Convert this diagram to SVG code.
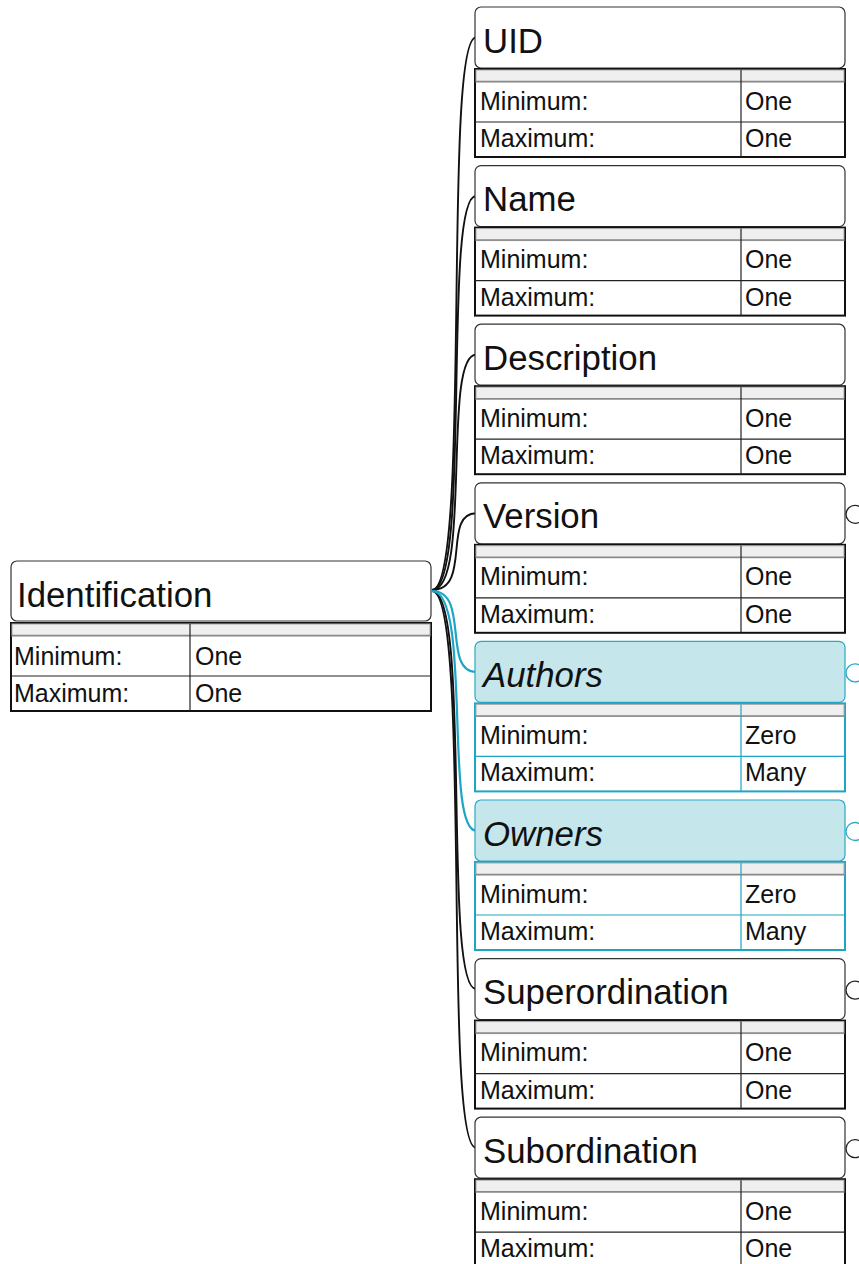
<svg xmlns="http://www.w3.org/2000/svg" width="859" height="1264" viewBox="0 0 859 1264">
  <style>
    .hdr { fill: #ffffff; stroke: #333333; stroke-width: 1.2; }
    .hdr-t { fill: #c5e6eb; stroke: #2aa9c7; stroke-width: 1.2; }
    .title { font-family: "Liberation Sans", Arial, sans-serif; font-size: 34.8px; fill: #111111; }
    .title-i { font-style: italic; }
    .tbl { fill: #ffffff; stroke: #111111; stroke-width: 2; }
    .tbl-t { fill: #ffffff; stroke: #1ea5c6; stroke-width: 2; }
    .strip { fill: #efefef; stroke: #aaaaaa; stroke-width: 1; }
    .strip-edge { stroke: #888888; stroke-width: 1.5; }
    .grid { stroke: #222222; stroke-width: 1.2; }
    .grid-t { stroke: #1ea5c6; stroke-width: 1.2; }
    .cell { font-family: "Liberation Sans", Arial, sans-serif; font-size: 25px; fill: #111111; }
    .port { fill: #ffffff; stroke: #222222; stroke-width: 1.3; }
    .port-t { fill: #ffffff; stroke: #2aa9c7; stroke-width: 1.3; }
    .link { fill: none; stroke: #111111; stroke-width: 1.9; }
    .link-t { fill: none; stroke: #1ea5c6; stroke-width: 2.2; }
  </style>

  <!-- connectors from the Identification node to each child -->
  <g id="connectors">
    <path class="link" d="M432 590 C472 590 442 37.5 476 37.5"/>
    <path class="link" d="M432 590 C472 590 442 196 476 196"/>
    <path class="link" d="M432 590 C472 590 442 354.7 476 354.7"/>
    <path class="link" d="M432 590 C472 590 442 513.3 476 513.3"/>
    <path class="link" d="M432 591 C472 591 442 989 476 989"/>
    <path class="link" d="M432 591 C472 591 442 1147.7 476 1147.7"/>
    <path class="link-t" d="M432 591 C470 591 442 672 476 672"/>
    <path class="link-t" d="M432 591 C472 591 444 830.5 476 830.5"/>
  </g>

  <!-- root node -->
  <g id="node-identification" transform="translate(11,561)">
    <rect class="hdr" x="0" y="0" width="420" height="60" rx="6"/>
    <text class="title" x="6" y="45.5">Identification</text>
    <rect class="tbl" x="0" y="62" width="420" height="88"/>
    <rect class="strip" x="1" y="63" width="418" height="12"/>
    <line class="strip-edge" x1="1" y1="74.5" x2="419" y2="74.5"/>
    <line class="grid" x1="179" y1="63" x2="179" y2="150"/>
    <line class="grid" x1="0" y1="115" x2="420" y2="115"/>
    <text class="cell" x="3" y="104">Minimum:</text>
    <text class="cell" x="184" y="104">One</text>
    <text class="cell" x="3" y="141">Maximum:</text>
    <text class="cell" x="184" y="141">One</text>
  </g>

  <g id="node-uid" transform="translate(475,7)">
    <rect class="hdr" x="0" y="0" width="370" height="61" rx="6"/>
    <text class="title" x="8" y="45.5">UID</text>
    <rect class="tbl" x="0" y="62" width="370" height="88"/>
    <rect class="strip" x="1" y="63" width="368" height="12"/>
    <line class="strip-edge" x1="1" y1="74.5" x2="369" y2="74.5"/>
    <line class="grid" x1="266" y1="63" x2="266" y2="150"/>
    <line class="grid" x1="0" y1="115" x2="370" y2="115"/>
    <text class="cell" x="5" y="102.5">Minimum:</text>
    <text class="cell" x="270" y="102.5">One</text>
    <text class="cell" x="5" y="140">Maximum:</text>
    <text class="cell" x="270" y="140">One</text>
  </g>

  <g id="node-name" transform="translate(475,165.6)">
    <rect class="hdr" x="0" y="0" width="370" height="61" rx="6"/>
    <text class="title" x="8" y="45.5">Name</text>
    <rect class="tbl" x="0" y="62" width="370" height="88"/>
    <rect class="strip" x="1" y="63" width="368" height="12"/>
    <line class="strip-edge" x1="1" y1="74.5" x2="369" y2="74.5"/>
    <line class="grid" x1="266" y1="63" x2="266" y2="150"/>
    <line class="grid" x1="0" y1="115" x2="370" y2="115"/>
    <text class="cell" x="5" y="102.5">Minimum:</text>
    <text class="cell" x="270" y="102.5">One</text>
    <text class="cell" x="5" y="140">Maximum:</text>
    <text class="cell" x="270" y="140">One</text>
  </g>

  <g id="node-description" transform="translate(475,324.2)">
    <rect class="hdr" x="0" y="0" width="370" height="61" rx="6"/>
    <text class="title" x="8" y="45.5">Description</text>
    <rect class="tbl" x="0" y="62" width="370" height="88"/>
    <rect class="strip" x="1" y="63" width="368" height="12"/>
    <line class="strip-edge" x1="1" y1="74.5" x2="369" y2="74.5"/>
    <line class="grid" x1="266" y1="63" x2="266" y2="150"/>
    <line class="grid" x1="0" y1="115" x2="370" y2="115"/>
    <text class="cell" x="5" y="102.5">Minimum:</text>
    <text class="cell" x="270" y="102.5">One</text>
    <text class="cell" x="5" y="140">Maximum:</text>
    <text class="cell" x="270" y="140">One</text>
  </g>

  <g id="node-version" transform="translate(475,482.8)">
    <circle class="port" cx="380" cy="31.5" r="9"/>
    <rect class="hdr" x="0" y="0" width="370" height="61" rx="6"/>
    <text class="title" x="8" y="45.5">Version</text>
    <rect class="tbl" x="0" y="62" width="370" height="88"/>
    <rect class="strip" x="1" y="63" width="368" height="12"/>
    <line class="strip-edge" x1="1" y1="74.5" x2="369" y2="74.5"/>
    <line class="grid" x1="266" y1="63" x2="266" y2="150"/>
    <line class="grid" x1="0" y1="115" x2="370" y2="115"/>
    <text class="cell" x="5" y="102.5">Minimum:</text>
    <text class="cell" x="270" y="102.5">One</text>
    <text class="cell" x="5" y="140">Maximum:</text>
    <text class="cell" x="270" y="140">One</text>
  </g>

  <g id="node-authors" transform="translate(475,641.4)">
    <circle class="port-t" cx="380" cy="31.5" r="9"/>
    <rect class="hdr-t" x="0" y="0" width="370" height="61" rx="6"/>
    <text class="title title-i" x="8" y="45.5">Authors</text>
    <rect class="tbl-t" x="0" y="62" width="370" height="88"/>
    <rect class="strip" x="1" y="63" width="368" height="12"/>
    <line class="strip-edge" x1="1" y1="74.5" x2="369" y2="74.5"/>
    <line class="grid-t" x1="266" y1="63" x2="266" y2="150"/>
    <line class="grid-t" x1="0" y1="115" x2="370" y2="115"/>
    <text class="cell" x="5" y="102.5">Minimum:</text>
    <text class="cell" x="270" y="102.5">Zero</text>
    <text class="cell" x="5" y="140">Maximum:</text>
    <text class="cell" x="270" y="140">Many</text>
  </g>

  <g id="node-owners" transform="translate(475,800)">
    <circle class="port-t" cx="380" cy="31.5" r="9"/>
    <rect class="hdr-t" x="0" y="0" width="370" height="61" rx="6"/>
    <text class="title title-i" x="8" y="45.5">Owners</text>
    <rect class="tbl-t" x="0" y="62" width="370" height="88"/>
    <rect class="strip" x="1" y="63" width="368" height="12"/>
    <line class="strip-edge" x1="1" y1="74.5" x2="369" y2="74.5"/>
    <line class="grid-t" x1="266" y1="63" x2="266" y2="150"/>
    <line class="grid-t" x1="0" y1="115" x2="370" y2="115"/>
    <text class="cell" x="5" y="102.5">Minimum:</text>
    <text class="cell" x="270" y="102.5">Zero</text>
    <text class="cell" x="5" y="140">Maximum:</text>
    <text class="cell" x="270" y="140">Many</text>
  </g>

  <g id="node-superordination" transform="translate(475,958.6)">
    <circle class="port" cx="380" cy="31.5" r="9"/>
    <rect class="hdr" x="0" y="0" width="370" height="61" rx="6"/>
    <text class="title" x="8" y="45.5">Superordination</text>
    <rect class="tbl" x="0" y="62" width="370" height="88"/>
    <rect class="strip" x="1" y="63" width="368" height="12"/>
    <line class="strip-edge" x1="1" y1="74.5" x2="369" y2="74.5"/>
    <line class="grid" x1="266" y1="63" x2="266" y2="150"/>
    <line class="grid" x1="0" y1="115" x2="370" y2="115"/>
    <text class="cell" x="5" y="102.5">Minimum:</text>
    <text class="cell" x="270" y="102.5">One</text>
    <text class="cell" x="5" y="140">Maximum:</text>
    <text class="cell" x="270" y="140">One</text>
  </g>

  <g id="node-subordination" transform="translate(475,1117.2)">
    <circle class="port" cx="380" cy="31.5" r="9"/>
    <rect class="hdr" x="0" y="0" width="370" height="61" rx="6"/>
    <text class="title" x="8" y="45.5">Subordination</text>
    <rect class="tbl" x="0" y="62" width="370" height="88"/>
    <rect class="strip" x="1" y="63" width="368" height="12"/>
    <line class="strip-edge" x1="1" y1="74.5" x2="369" y2="74.5"/>
    <line class="grid" x1="266" y1="63" x2="266" y2="150"/>
    <line class="grid" x1="0" y1="115" x2="370" y2="115"/>
    <text class="cell" x="5" y="102.5">Minimum:</text>
    <text class="cell" x="270" y="102.5">One</text>
    <text class="cell" x="5" y="140">Maximum:</text>
    <text class="cell" x="270" y="140">One</text>
  </g>
</svg>
